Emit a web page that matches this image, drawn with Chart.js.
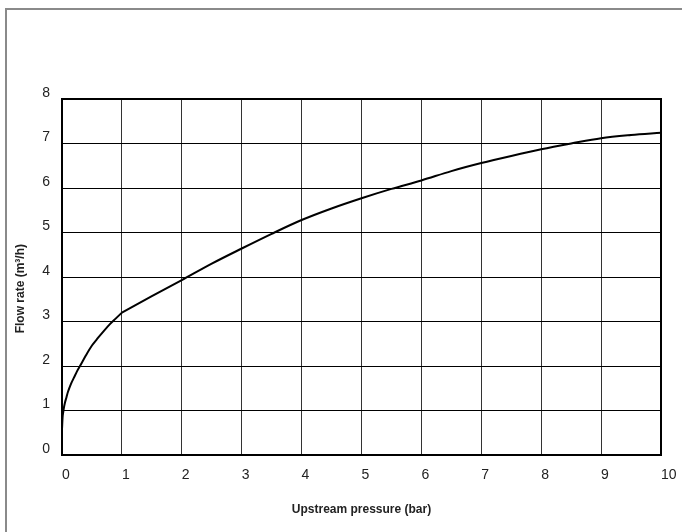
<!DOCTYPE html>
<html><head><meta charset="utf-8">
<script src="https://cdn.jsdelivr.net/npm/chart.js@4/dist/chart.umd.min.js"></script>
<style>html,body{margin:0;padding:0;background:#fff}#wrap{width:682px;height:532px;position:relative}</style>
</head><body><div id="wrap"><canvas id="c" width="682" height="532"></canvas></div>
<script>
// Upstream pressure (bar) and flow rate (m³/h)
const pressure = [0, 0.01, 0.02, 0.03, 0.05, 0.075, 0.1, 0.15, 0.2, 0.25, 0.31, 0.4, 0.5, 0.6, 0.7, 0.8, 0.9, 1, 1.5, 2, 2.5, 3, 3.5, 4, 4.5, 5, 5.5, 6, 6.5, 7, 7.5, 8, 8.5, 9, 9.5, 10];
const flowRate = [0.58, 0.85, 0.96, 1.05, 1.18, 1.3, 1.42, 1.6, 1.74, 1.88, 2.02, 2.24, 2.46, 2.63, 2.79, 2.94, 3.07, 3.2, 3.57, 3.93, 4.3, 4.64, 4.97, 5.28, 5.54, 5.77, 5.98, 6.17, 6.38, 6.56, 6.72, 6.87, 7.0, 7.12, 7.19, 7.24];
const kneePressure = 1; // curve has a visible knee at 1 bar
const xTicks = [0, 1, 2, 3, 4, 5, 6, 7, 8, 9, 10];
const yTicks = [0, 1, 2, 3, 4, 5, 6, 7, 8];
const xTitle = 'Upstream pressure (bar)';
const yTitle = 'Flow rate (m³/h)';

const points = pressure.map((p, i) => ({x: p, y: flowRate[i]}));
const lowPart = points.filter(p => p.x <= kneePressure);
const highPart = points.filter(p => p.x >= kneePressure);

const framePlugin = {
  id: 'frame',
  beforeDraw(chart) {
    const ctx = chart.ctx;
    ctx.save();
    ctx.fillStyle = '#fff';
    ctx.fillRect(0, 0, chart.width, chart.height);
    ctx.fillStyle = '#8a8a8a';
    ctx.fillRect(5, 8, 2, chart.height - 8);
    ctx.fillRect(5, 8, chart.width - 5, 2);
    ctx.restore();
  },
  afterDraw(chart) {
    const a = chart.chartArea, ctx = chart.ctx;
    ctx.save();
    ctx.strokeStyle = '#000';
    ctx.lineWidth = 2;
    ctx.strokeRect(a.left, a.top, a.right - a.left, a.bottom - a.top);
    ctx.restore();
  }
};

const fontFam = 'Arial, "Liberation Sans", sans-serif';
const lineStyle = {borderColor: '#000', borderWidth: 2, pointRadius: 0, cubicInterpolationMode: 'monotone', fill: false};

new Chart(document.getElementById('c'), {
  type: 'line',
  data: {
    datasets: [
      Object.assign({data: lowPart}, lineStyle),
      Object.assign({data: highPart}, lineStyle)
    ]
  },
  plugins: [framePlugin],
  options: {
    responsive: false,
    animation: false,
    devicePixelRatio: 1,
    layout: {padding: {top: 99, right: 21, left: 0, bottom: 0}},
    plugins: {legend: {display: false}, tooltip: {enabled: false}},
    scales: {
      x: {
        type: 'linear', min: 0, max: 10,
        afterBuildTicks(s) { s.ticks = xTicks.map(v => ({value: v})); },
        afterFit(s) { s.height = 77; s.paddingRight = 0; s.paddingLeft = 0; },
        ticks: {align: 'start', padding: 12, color: '#222', font: {family: fontFam, size: 14}},
        grid: {color: '#333', lineWidth: 1, drawTicks: false},
        border: {color: '#000', width: 2},
        title: {display: true, text: xTitle, color: '#222', font: {family: fontFam, size: 12, weight: 'bold'}, padding: {top: 0, bottom: 15}}
      },
      y: {
        type: 'linear', min: 0, max: 8,
        afterBuildTicks(s) { s.ticks = yTicks.map(v => ({value: v})); },
        afterFit(s) { s.width = 62; s.paddingTop = 0; s.paddingBottom = 0; },
        ticks: {padding: 12, labelOffset: -6, color: '#222', font: {family: fontFam, size: 14}},
        grid: {color: '#000', lineWidth: 1, drawTicks: false},
        border: {color: '#000', width: 2},
        title: {display: true, text: yTitle + '       ', color: '#222', font: {family: fontFam, size: 12, weight: 'bold'}, padding: {top: 13, bottom: 0}}
      }
    }
  }
});
</script>
</body></html>
